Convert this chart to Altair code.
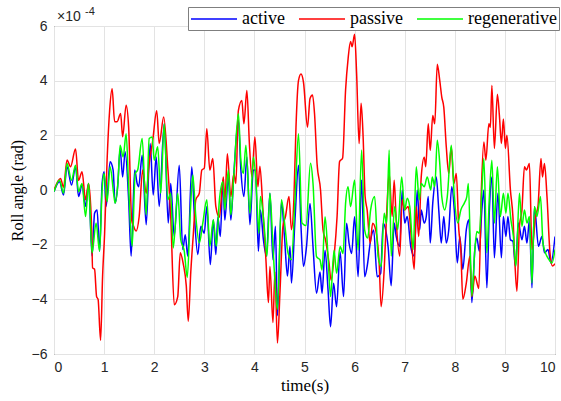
import altair as alt
import pandas as pd

# time (s) and roll angle (x1e-4 rad)
t_active = [0.0,0.11,0.19,0.26,0.35,0.43,0.49,0.56,0.63,0.69,0.76,0.81,0.86,0.91,0.96,1.0,1.04,1.12,1.18,1.22,1.27,1.32,1.37,1.42,1.49,1.54,1.61,1.66,1.69,1.76,1.84,1.92,1.98,2.04,2.10,2.20,2.28,2.33,2.40,2.50,2.57,2.62,2.67,2.75,2.80,2.87,2.93,3.0,3.05,3.12,3.18,3.23,3.27,3.32,3.37,3.41,3.48,3.53,3.59,3.68,3.73,3.79,3.85,3.91,3.98,4.02,4.08,4.12,4.18,4.24,4.31,4.37,4.42,4.46,4.54,4.60,4.66,4.71,4.74,4.81,4.88,4.93,4.98,5.04,5.11,5.17,5.24,5.31,5.35,5.41,5.47,5.52,5.58,5.64,5.71,5.78,5.84,5.89,5.94,6.0,6.07,6.14,6.20,6.25,6.32,6.38,6.45,6.52,6.57,6.62,6.67,6.73,6.79,6.83,6.90,6.95,7.0,7.05,7.12,7.19,7.25,7.30,7.33,7.39,7.43,7.47,7.51,7.56,7.63,7.68,7.73,7.78,7.83,7.88,7.94,7.99,8.05,8.10,8.16,8.23,8.28,8.34,8.40,8.44,8.49,8.54,8.58,8.64,8.69,8.74,8.79,8.86,8.93,8.97,9.02,9.06,9.11,9.16,9.21,9.27,9.34,9.39,9.44,9.49,9.54,9.59,9.67,9.74,9.79,9.86,9.92,10.0]
v_active = [-0.06,0.3,-0.18,0.85,0.18,0.85,-0.24,0.18,-0.6,0.24,-2.42,-0.85,-0.73,-2.24,0.24,0.67,-0.6,1.03,0.73,-0.48,0.12,1.5,0.48,1.4,-0.36,-2.42,0.73,0.24,0.12,1.27,-1.27,1.7,-0.18,1.21,-0.6,2.42,-1.21,0.24,-1.7,0.91,-2.18,-1.64,-2.42,0.85,-0.85,-2.36,-1.33,-1.58,-0.6,-2.73,-1.1,-2.36,-1.0,-1.7,0.36,-1.1,0.48,-1.1,0.6,2.55,0.73,-0.24,1.21,-1.27,0.73,0.73,-2.24,-0.73,-1.82,-2.42,-0.12,-2.55,-1.33,-4.6,-0.42,-1.7,-3.15,-2.06,-3.4,-1.09,0.91,-1.33,-2.8,-2.07,-0.49,-2.07,-3.78,-3.0,-3.78,-2.2,-3.66,-5.0,-3.41,-4.27,-2.26,-3.9,-1.22,-1.95,-2.32,-0.98,-3.17,0.37,-3.17,-2.8,-1.83,-1.46,-3.17,-3.05,-1.22,-1.46,-2.1,-3.5,-1.21,-1.7,-2.06,0.0,-1.21,-0.97,-2.06,-2.42,0.0,-1.45,-0.73,-1.21,-0.97,-0.24,-1.94,-0.48,0.48,-0.73,-1.94,-0.97,-1.94,-1.45,0.12,-0.73,-2.67,-1.7,-2.9,-1.45,-1.09,-4.12,-2.18,-1.76,-2.24,-0.73,0.0,-3.58,-0.73,0.48,-2.48,-0.12,-2.48,-0.97,-1.7,-0.97,-1.82,-1.88,-2.79,-1.21,-1.82,-1.33,-1.94,-1.09,-3.58,-0.61,-2.06,-1.7,-2.3,-2.18,-2.67,-1.7]

t_passive = [0.0,0.13,0.19,0.26,0.33,0.43,0.49,0.56,0.63,0.69,0.75,0.77,0.81,0.85,0.88,0.93,0.97,1.01,1.06,1.11,1.16,1.21,1.26,1.33,1.37,1.44,1.49,1.55,1.59,1.64,1.70,1.77,1.84,1.90,1.97,2.05,2.10,2.19,2.27,2.33,2.40,2.47,2.52,2.58,2.64,2.68,2.73,2.78,2.83,2.90,2.95,3.0,3.05,3.11,3.17,3.23,3.30,3.38,3.41,3.46,3.53,3.59,3.63,3.68,3.75,3.79,3.85,3.90,3.95,4.01,4.07,4.11,4.17,4.23,4.28,4.31,4.37,4.41,4.46,4.51,4.57,4.62,4.69,4.74,4.79,4.83,4.88,4.93,4.98,5.06,5.11,5.16,5.20,5.25,5.32,5.37,5.42,5.49,5.53,5.59,5.65,5.70,5.76,5.82,5.87,5.92,5.95,6.00,6.04,6.09,6.13,6.17,6.21,6.25,6.31,6.36,6.42,6.49,6.53,6.59,6.64,6.69,6.75,6.79,6.83,6.90,6.95,7.0,7.07,7.13,7.19,7.23,7.28,7.33,7.39,7.42,7.47,7.51,7.56,7.60,7.65,7.70,7.74,7.78,7.83,7.88,7.93,7.98,8.03,8.08,8.12,8.16,8.23,8.30,8.34,8.40,8.48,8.53,8.58,8.62,8.68,8.71,8.74,8.79,8.85,8.89,8.93,8.97,9.01,9.04,9.11,9.16,9.20,9.24,9.29,9.34,9.39,9.43,9.49,9.54,9.61,9.66,9.72,9.75,9.79,9.84,9.90,9.95,10.0]
v_passive = [0.0,0.42,0.1,1.1,0.85,1.5,0.35,0.67,-0.36,0.24,-1.33,-2.85,-2.9,-3.9,-4.0,-5.5,-3.15,-1.6,1.1,2.9,3.7,2.5,2.5,2.8,1.95,3.1,2.3,-1.1,-1.33,-1.5,-0.97,0.73,-0.12,0.97,1.8,2.9,1.7,2.67,0.85,-0.97,-4.2,-3.9,-2.3,-2.7,-3.5,-4.8,-3.0,-1.64,-0.36,-0.12,0.73,0.8,2.24,0.73,1.15,-0.6,-1.0,0.48,-0.48,1.33,-0.24,0.6,0.24,2.9,3.27,2.42,3.64,1.7,0.48,1.94,0.12,0.87,-0.73,-2.55,-4.12,-2.8,-4.85,-3.0,-5.6,-3.76,-1.33,-0.97,-0.24,-1.45,-0.24,2.3,4.0,4.24,3.94,2.3,3.35,3.48,2.8,0.98,0.0,-1.46,-1.83,-2.68,-3.3,-2.44,-0.98,1.04,1.16,3.66,4.8,5.43,5.24,5.7,4.27,1.7,3.17,1.95,-0.24,-0.73,-1.95,-1.22,-1.46,-2.68,-4.27,-2.93,-0.85,0.6,-0.97,0.36,-1.1,-2.42,-0.36,-0.73,-0.6,-1.7,-2.9,-0.6,-1.7,0.48,1.2,0.85,2.42,1.45,2.73,2.42,4.6,4.0,3.4,3.03,1.58,0.6,1.58,0.24,0.6,-1.45,-2.18,-4.0,-3.4,-2.42,-3.9,-3.15,-3.6,0.0,1.76,1.09,2.42,2.3,3.82,1.52,3.5,2.73,1.7,2.6,1.52,2.0,0.0,-0.97,-2.67,-3.7,-1.33,-0.73,0.85,0.73,0.97,-2.18,-0.97,-0.6,1.15,0.48,0.97,-0.24,-2.3,-2.78,-2.7]

t_regen = [0.0,0.11,0.19,0.26,0.35,0.43,0.49,0.56,0.63,0.69,0.76,0.84,0.91,0.96,1.0,1.06,1.12,1.19,1.22,1.28,1.32,1.38,1.44,1.49,1.56,1.62,1.67,1.76,1.84,1.90,1.96,2.0,2.07,2.13,2.20,2.27,2.33,2.38,2.47,2.53,2.60,2.66,2.72,2.77,2.83,2.90,2.97,3.05,3.11,3.18,3.24,3.30,3.37,3.41,3.48,3.53,3.59,3.68,3.73,3.78,3.83,3.91,3.98,4.03,4.09,4.12,4.19,4.25,4.31,4.37,4.46,4.54,4.61,4.67,4.74,4.81,4.88,4.95,5.03,5.12,5.17,5.24,5.31,5.35,5.41,5.47,5.52,5.59,5.64,5.71,5.77,5.82,5.87,5.92,6.0,6.07,6.14,6.20,6.26,6.32,6.40,6.47,6.53,6.59,6.64,6.69,6.73,6.80,6.86,6.94,7.0,7.05,7.10,7.17,7.23,7.29,7.33,7.39,7.45,7.52,7.55,7.60,7.65,7.70,7.74,7.80,7.85,7.93,7.99,8.06,8.12,8.19,8.24,8.27,8.34,8.40,8.44,8.49,8.54,8.58,8.64,8.69,8.74,8.79,8.85,8.91,8.97,9.02,9.06,9.12,9.17,9.22,9.29,9.34,9.39,9.44,9.49,9.54,9.59,9.64,9.71,9.76,9.81,9.88,9.94,10.0]
v_regen = [-0.06,0.36,-0.12,0.97,0.36,0.91,-0.06,0.24,-0.97,0.24,-2.3,-1.21,-2.24,0.0,0.6,-0.42,0.85,-0.12,-0.48,0.36,1.64,1.21,2.06,0.12,-2.06,0.6,0.73,1.88,-0.91,1.88,1.94,1.09,1.58,-0.12,2.42,-0.36,-0.12,-2.12,-0.12,-1.82,-2.24,-3.2,-0.85,0.55,-0.97,-1.94,-1.21,-0.36,-2.06,-1.09,-2.06,-0.4,0.3,-0.73,0.73,-0.91,0.55,2.79,1.09,0.6,1.64,-0.85,1.21,0.36,-1.58,-0.24,-1.21,-2.42,-0.12,-2.06,-4.36,-0.36,-1.33,-2.3,-2.55,-0.36,2.06,-1.21,-1.3,0.98,0.24,-2.44,-2.56,-2.93,-0.98,-2.44,-3.9,-2.2,-3.05,-2.07,-2.32,-0.49,0.12,-0.61,0.37,-2.2,1.46,-1.46,-1.76,-0.73,-0.24,-2.44,-2.8,-0.85,-1.22,1.46,-2.42,-0.6,-1.45,0.48,-0.73,-0.3,-0.6,-2.18,0.85,-0.36,0.24,0.12,0.48,0.0,0.48,0.12,1.82,0.97,-0.24,-0.73,-0.24,1.64,-0.24,-1.21,-0.73,-0.48,-0.24,0.24,-3.88,-2.18,-1.52,-1.58,0.0,1.15,-2.3,-0.24,1.09,-1.21,0.85,-0.97,-0.12,-0.85,-0.12,-1.09,-1.7,-2.79,-0.12,-1.33,-0.73,-1.21,-0.97,-3.4,-0.61,-0.97,-0.24,-1.94,-2.3,-2.55,-2.67,-2.18]

series_names = ["active", "passive", "regenerative"]
series_colors = ["#0000ff", "#ff0000", "#00ff00"]
x_ticks = [0, 1, 2, 3, 4, 5, 6, 7, 8, 9, 10]
y_ticks = [-6, -4, -2, 0, 2, 4, 6]

rows = []
for name, ts, vs in zip(series_names, [t_active, t_passive, t_regen], [v_active, v_passive, v_regen]):
    for t, v in zip(ts, vs):
        rows.append({"t": t, "v": v, "series": name})
df = pd.DataFrame(rows)

x = alt.X("t:Q", scale=alt.Scale(domain=[0, 10], nice=False),
          axis=alt.Axis(values=x_ticks, title="time(s)", format="d", labelPadding=6, titlePadding=3))
y = alt.Y("v:Q", scale=alt.Scale(domain=[-6, 6], nice=False),
          axis=alt.Axis(values=y_ticks, title="Roll angle (rad)", format="d", labelPadding=7, titlePadding=6))

lines = alt.Chart(df).mark_line(strokeWidth=1.5, clip=True, interpolate="monotone").encode(
    x=x, y=y,
    color=alt.Color("series:N",
                    scale=alt.Scale(domain=series_names, range=series_colors),
                    legend=alt.Legend(orient="none", legendX=134, legendY=-19, direction="horizontal",
                                      title=None, symbolType="M-2.556,0H2.556", symbolSize=324,
                                      symbolOffset=14, symbolFillColor="transparent",
                                      symbolStrokeWidth=1.5, labelFont="Liberation Serif",
                                      labelFontSize=18, labelColor="#000000", labelOffset=18,
                                      columnPadding=10, padding=2, strokeColor="#7f7f7f",
                                      fillColor="#ffffff", cornerRadius=0)),
)

exp_df = pd.DataFrame({"txt": ["\u00d710"]})
exp_main = alt.Chart(exp_df).mark_text(align="left", baseline="alphabetic", font="Liberation Sans",
                                       fontSize=14, color="#262626").encode(
    x=alt.value(3), y=alt.value(-5), text="txt:N")
exp_df2 = pd.DataFrame({"txt": ["-4"]})
exp_sup = alt.Chart(exp_df2).mark_text(align="left", baseline="alphabetic", font="Liberation Sans",
                                       fontSize=11, color="#262626").encode(
    x=alt.value(31), y=alt.value(-11), text="txt:N")

chart = alt.layer(lines, exp_main, exp_sup).properties(
    width=501, height=328,
    autosize=alt.AutoSizeParams(type="none"),
    padding={"left": 54, "top": 26, "right": 6, "bottom": 47},
).configure_view(stroke="#262626", strokeWidth=1).configure_axis(
    labelFont="Liberation Sans", labelFontSize=14, labelColor="#262626",
    titleFont="Liberation Serif", titleFontSize=17, titleFontWeight="normal", titleColor="#000000",
    ticks=False, domain=False, grid=True, gridColor="#e3e3e3", gridWidth=1,
).configure_axisY(titleFontSize=16)

chart.save("out.html", embed_options={"renderer": "svg", "actions": False})
